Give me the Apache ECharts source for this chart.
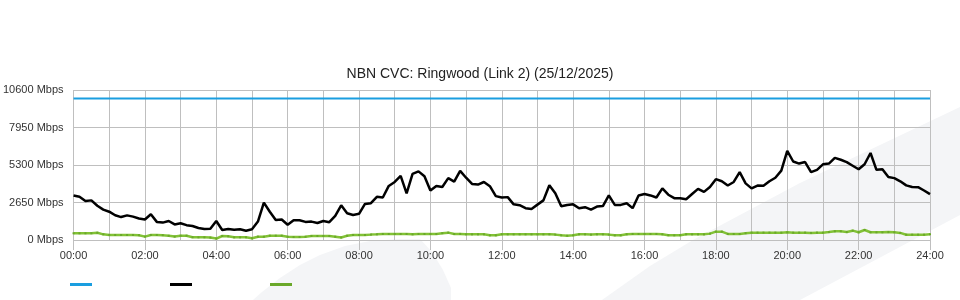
<!DOCTYPE html>
<html><head><meta charset="utf-8">
<script src="https://cdn.jsdelivr.net/npm/echarts@6/dist/echarts.min.js"></script>
<style>html,body{margin:0;padding:0;background:#fff}#c{width:960px;height:300px}</style>
</head><body><div id="c"></div>
<script>
const titleText = 'NBN CVC: Ringwood (Link 2) (25/12/2025)';
const xTickLabels = ['00:00','02:00','04:00','06:00','08:00','10:00','12:00','14:00','16:00','18:00','20:00','22:00','24:00'];
const yMax = 10600;
const yStep = 2650;
const stepMinutes = 10;
const capacity = [[0, 10000], [1440, 10000]];
const download = [
 3140,3050,2750,2800,2420,2150,2000,1750,1620,1740,
 1650,1520,1450,1820,1280,1230,1340,1100,1180,1050,
 990,850,780,800,1346,708,780,720,760,660,
 760,1300,2640,2000,1417,1450,1080,1400,1400,1280,
 1300,1200,1340,1260,1700,2450,1892,1771,1850,2550,
 2600,3050,3000,3820,4100,4535,3300,4677,4850,4500,
 3493,3820,3750,4372,4131,4889,4400,3960,3920,4100,
 3800,3100,3000,3030,2520,2460,2250,2197,2500,2800,
 3870,3300,2380,2470,2520,2246,2320,2150,2360,2400,
 3150,2480,2480,2600,2250,3150,3250,3150,3000,3650,
 3200,2955,2955,2880,3250,3614,3400,3750,4300,4150,
 3850,4100,4800,4000,3650,3850,3830,4150,4400,4900,
 6300,5548,5400,5506,4800,4960,5350,5400,5800,5669,
 5500,5250,5000,5350,6150,4960,5000,4450,4372,4150,
 3860,3750,3734,3500,3238
];
const upload = [
 475,475,475,480,510,400,360,354,354,354,
 354,340,240,354,354,340,300,240,305,305,
 200,190,190,170,100,283,260,190,190,190,
 120,234,234,305,305,305,230,212,212,230,
 283,283,283,283,234,180,300,354,354,354,
 380,400,425,425,425,425,425,400,425,425,
 425,425,480,520,425,430,400,400,400,400,
 330,330,400,400,400,400,400,400,400,400,
 400,380,330,305,330,400,400,380,400,400,
 380,330,330,400,425,425,425,425,425,400,
 340,330,340,400,400,400,400,450,590,590,
 430,425,425,480,520,520,520,520,520,520,
 540,520,520,520,500,520,520,560,615,615,
 560,660,545,708,545,545,545,560,545,500,
 375,375,375,375,400
];

const pair = arr => arr.map((v, i) => [i * stepMinutes, v]);
const chart = echarts.init(document.getElementById('c'), null, {renderer: 'canvas'});
const gridColor = '#bfbfbf';
const legendBase = {
  top: 283, padding: 0, itemWidth: 22, itemHeight: 3, icon: 'rect',
  formatter: () => '', selectedMode: false, textStyle: {fontSize: 1}
};
chart.setOption({
  animation: false,
  backgroundColor: '#ffffff',
  textStyle: {fontFamily: 'Liberation Sans, Arial, sans-serif'},
  title: {
    text: titleText, left: 'center', top: 62,
    textStyle: {fontSize: 14, fontWeight: 'normal', color: '#222', fontFamily: 'Liberation Sans, Arial, sans-serif'}
  },
  graphic: [
    {type: 'polygon', z: -10, silent: true,
     shape: {points: [[253,300],[262,292],[280,278],[300,265],[320,255],[345,246],[370,241],[400,239],[420,239],[432,252],[443,270],[451,288],[451,300]]},
     style: {fill: '#f4f5f7'}},
    {type: 'polygon', z: -10, silent: true,
     shape: {points: [[602,300],[650,266],[693,240],[800,183],[960,107],[960,215],[913,240],[800,300]]},
     style: {fill: '#f4f5f7'}}
  ],
  legend: [
    Object.assign({left: 70, data: ['Capacity']}, legendBase),
    Object.assign({left: 170, data: ['Download']}, legendBase),
    Object.assign({left: 270, data: ['Upload']}, legendBase)
  ],
  grid: {left: 70, right: 30, top: 90, height: 150, containLabel: false},
  xAxis: {
    type: 'value', min: 0, max: 1440, interval: 120,
    axisLine: {show: true, lineStyle: {color: gridColor}},
    axisTick: {show: true, length: 10, lineStyle: {color: gridColor}},
    minorTick: {show: false, splitNumber: 2},
    splitLine: {show: true, lineStyle: {color: gridColor, width: 1}},
    minorSplitLine: {show: true, lineStyle: {color: gridColor, width: 1}},
    axisLabel: {formatter: v => xTickLabels[Math.round(v / 120)], fontSize: 11, color: '#333', margin: 10}
  },
  yAxis: {
    type: 'value', min: 0, max: yMax, interval: yStep,
    axisLine: {show: false}, axisTick: {show: false},
    splitLine: {show: true, lineStyle: {color: gridColor, width: 1}},
    axisLabel: {formatter: v => v + ' Mbps', fontSize: 11, color: '#333', margin: 10, padding: [0, 0, 4, 0]}
  },
  series: [
    {name: 'Capacity', type: 'line', data: capacity, showSymbol: false, color: '#1a9ee0',
     lineStyle: {width: 2, color: '#1a9ee0'}},
    {name: 'Upload', type: 'line', data: pair(upload), symbol: 'rect', symbolSize: 2, showSymbol: true,
     color: '#7fbf2f', itemStyle: {color: '#6aa82a'},
     lineStyle: {width: 2.5, color: '#82c236'}},
    {name: 'Download', type: 'line', data: pair(download), showSymbol: false, color: '#000000',
     lineStyle: {width: 2.5, color: '#000000'}}
  ]
});
</script></body></html>
